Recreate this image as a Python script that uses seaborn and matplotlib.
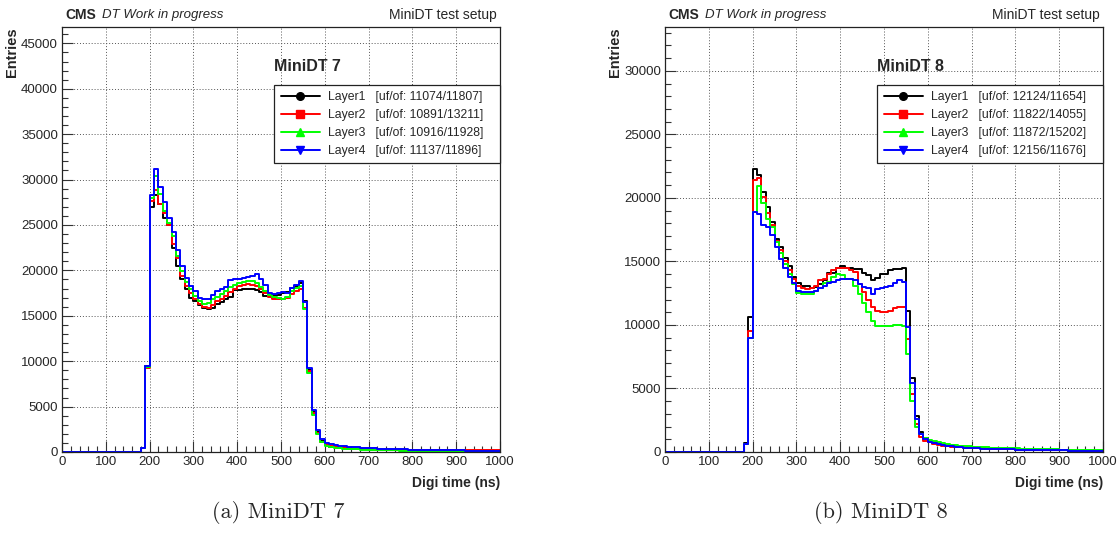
import matplotlib
matplotlib.use("Agg")
import matplotlib.pyplot as plt
from matplotlib.lines import Line2D
from matplotlib.ticker import MultipleLocator
import pandas as pd
import seaborn as sns

# Histogram binning (10 ns bins, 0..1000 ns), counts listed from the 180 ns bin on
BIN_WIDTH = 10
T_MIN, T_MAX = 0, 1000
FIRST_BIN = 180

LAYERS = ["Layer1", "Layer2", "Layer3", "Layer4"]
LAYER_COLORS = ["#000000", "#ff0000", "#00ff00", "#0000ff"]
LAYER_MARKERS = ["o", "s", "^", "v"]

# --- MiniDT 7 ---
MDT7_L1 = [
    400, 9500, 27000, 28300, 27300, 25800, 25000, 22500, 20500,
    19000, 17900, 17000, 16600, 16200, 15900, 15700, 15900, 16300, 16500,
    16800, 17100, 17800, 17800, 17900, 17900, 17900, 17800, 17600, 17200,
    17200, 17300, 17300, 17500, 17600, 18100, 18300, 18600, 16600, 9000,
    4400, 2200, 1200,
    800, 600, 500, 450, 400, 380, 350, 330, 300, 280,
    270, 260, 250, 240, 230, 220, 210, 200, 190, 180,
    170, 160, 150, 150, 140, 140, 130, 130, 120, 120,
    110, 110, 100, 100, 100, 90, 90, 90, 80, 80,
]
MDT7_L2 = [
    400, 9300, 27600, 28800, 27300, 26300, 25000, 22900, 21400,
    19400, 18300, 17500, 16900, 16300, 16000, 15900, 16200, 16600, 16900,
    17200, 17600, 18000, 18300, 18400, 18500, 18400, 18300, 18000, 17500,
    17100, 16900, 16800, 16900, 17000, 17400, 17700, 17900, 15900, 8900,
    4300, 2100, 1100,
    800, 650, 550, 480, 430, 400, 370, 340, 320, 300,
    280, 270, 260, 250, 240, 230, 220, 210, 200, 200,
    190, 180, 180, 170, 170, 200, 220, 200, 180, 200,
    220, 200, 200, 180, 200, 220, 200, 200, 210, 200,
]
MDT7_L3 = [
    400, 9400, 28000, 30400, 28400, 26500, 25200, 23800, 21600,
    19900, 18700, 17900, 17200, 16600, 16300, 16400, 16800, 17100, 17400,
    17700, 18200, 18400, 18600, 18700, 18800, 18800, 18600, 18200, 17700,
    17300, 17100, 17000, 16900, 17100, 17700, 18100, 18300, 15800, 8700,
    4100, 2000, 1100,
    700, 550, 450, 400, 360, 330, 300, 280, 260, 240,
    230, 220, 210, 200, 190, 180, 170, 160, 150, 150,
    140, 140, 130, 130, 120, 120, 110, 110, 100, 100,
    90, 90, 90, 80, 80, 80, 70, 70, 70, 60,
]
MDT7_L4 = [
    400, 9500, 28300, 31200, 29200, 27500, 25800, 24200, 22200,
    20500, 19200, 18300, 17700, 17000, 16800, 16900, 17300, 17700, 17900,
    18200, 18900, 19000, 19100, 19200, 19300, 19400, 19600, 19000, 18400,
    17500, 17400, 17500, 17600, 17500, 18100, 18400, 18800, 16500, 9300,
    4600, 2400, 1400,
    1000, 850, 750, 700, 650, 600, 560, 520, 490, 460,
    430, 400, 380, 360, 340, 320, 300, 290, 280, 260,
    250, 240, 230, 220, 210, 200, 200, 190, 180, 180,
    170, 170, 160, 160, 150, 150, 140, 140, 130, 130,
]
MDT7_UFOF = ["11074/11807", "10891/13211", "10916/11928", "11137/11896"]

# --- MiniDT 8 ---
MDT8_L1 = [
    700, 10600, 22300, 21800, 20500, 19300, 18100, 16800, 16100,
    15300, 14600, 13800, 13300, 13100, 13100, 12900, 13000, 13200, 13500,
    14100, 14100, 14500, 14600, 14500, 14500, 14400, 14400, 14100, 13900,
    13500, 13700, 14000, 14000, 14300, 14400, 14400, 14500, 11100, 5800,
    2800, 1600, 1100,
    900, 750, 650, 580, 520, 480, 440, 410, 380, 350,
    330, 310, 290, 270, 250, 240, 230, 220, 210, 200,
    190, 180, 170, 160, 150, 150, 140, 140, 130, 130,
    120, 120, 110, 110, 100, 100, 100, 90, 90, 90,
]
MDT8_L2 = [
    600, 9500, 21400, 21600, 20100, 18800, 17900, 16600, 15900,
    15000, 14300, 13600, 13100, 12900, 12800, 12900, 13100, 13500, 13600,
    14000, 14300, 14500, 14500, 14500, 14300, 14200, 13200, 12600, 12000,
    11400, 11100, 11000, 11000, 11100, 11300, 11400, 11400, 8900, 4600,
    2200, 1200, 900,
    750, 650, 560, 500, 460, 420, 390, 360, 340, 320,
    300, 290, 280, 270, 260, 250, 240, 230, 220, 210,
    200, 190, 180, 170, 160, 150, 150, 140, 140, 130,
    130, 120, 120, 110, 110, 100, 100, 100, 90, 90,
]
MDT8_L3 = [
    600, 9000, 18900, 20900, 19600, 18300, 17700, 16500, 15700,
    14800, 14000, 13200, 12500, 12400, 12400, 12400, 12700, 12900, 13300,
    13400, 13800, 14000, 13900, 13600, 13600, 13100, 12400, 11700, 11000,
    10300, 9900, 9900, 9900, 9900, 10000, 10000, 9900, 7700, 4000,
    2000, 1400, 1100,
    950, 850, 750, 680, 620, 570, 530, 500, 470, 440,
    420, 400, 380, 360, 340, 330, 320, 310, 300, 290,
    280, 270, 260, 250, 240, 230, 220, 210, 200, 200,
    190, 180, 170, 160, 160, 150, 150, 140, 140, 130,
]
MDT8_L4 = [
    600, 9000, 18900, 18700, 17900, 17700, 17100, 16100, 15200,
    14500, 13800, 13300, 12700, 12600, 12600, 12600, 12700, 12900, 13100,
    13300, 13400, 13500, 13600, 13600, 13600, 13500, 13200, 13000, 12900,
    12400, 12800, 12900, 13000, 13100, 13300, 13500, 13400, 9800, 5400,
    2600, 1400, 1000,
    800, 680, 600, 540, 490, 450, 410, 380, 350, 330,
    310, 290, 270, 260, 250, 240, 230, 220, 210, 200,
    190, 180, 170, 160, 150, 150, 140, 140, 130, 130,
    120, 120, 110, 110, 100, 100, 100, 90, 90, 90,
]
MDT8_UFOF = ["12124/11654", "11822/14055", "11872/15202", "12156/11676"]

W, H = 1118, 545


def to_frame(series):
    rows = []
    for layer, counts in zip(LAYERS, series):
        for i, c in enumerate(counts):
            rows.append({"layer": layer, "time": FIRST_BIN + BIN_WIDTH * (i + 0.5), "counts": c})
    return pd.DataFrame(rows)


def draw_panel(fig, left_px, series, ufof, title, caption):
    ax = fig.add_axes([left_px / W, (H - 452) / H, 438 / W, 425 / H])
    df = to_frame(series)

    # draw layer by layer so Layer4 ends up on top, like ROOT
    for layer, color in zip(LAYERS, LAYER_COLORS):
        sns.histplot(
            data=df[df["layer"] == layer],
            x="time",
            weights="counts",
            binwidth=BIN_WIDTH,
            binrange=(T_MIN, T_MAX),
            element="step",
            fill=False,
            color=color,
            linewidth=1.4,
            ax=ax,
        )

    ymax = 1.5 * df["counts"].max()
    ax.set_xlim(T_MIN, T_MAX)
    ax.set_ylim(0, ymax)

    # ROOT-ish axes
    ax.xaxis.set_major_locator(MultipleLocator(100))
    ax.xaxis.set_minor_locator(MultipleLocator(20))
    ax.yaxis.set_major_locator(MultipleLocator(5000))
    ax.yaxis.set_minor_locator(MultipleLocator(1000))
    ax.tick_params(which="both", direction="in", bottom=True, left=True,
                   top=False, right=False,
                   labelsize=9.5, pad=3, width=0.8, color="#333333")
    ax.tick_params(which="major", length=8)
    ax.tick_params(which="minor", length=4)
    ax.grid(True, which="major", linestyle=(0, (1, 2)), color="#555555", linewidth=0.7)
    ax.set_axisbelow(True)
    for sp in ax.spines.values():
        sp.set_visible(True)
        sp.set_color("#222222")
        sp.set_linewidth(0.9)

    ax.set_xlabel("Digi time (ns)", loc="right", fontweight="bold", fontsize=10, labelpad=6)
    ax.set_ylabel("Entries", loc="top", fontweight="bold", fontsize=10.5, labelpad=1)

    ax.text(0.483, 0.906, title, transform=ax.transAxes, fontsize=11.5,
            fontweight="bold", va="center", ha="left")

    handles = [
        Line2D([], [], color=c, marker=m, markersize=5.5, linewidth=1.4)
        for c, m in zip(LAYER_COLORS, LAYER_MARKERS)
    ]
    labels = [f"{lay}   [uf/of: {u}]" for lay, u in zip(LAYERS, ufof)]
    leg = ax.legend(
        handles, labels,
        loc="upper left",
        bbox_to_anchor=(0.485, 0.682, 0.515, 0.182),
        mode="expand",
        borderaxespad=0,
        fontsize=8.8,
        handlelength=3.2,
        handletextpad=0.7,
        labelspacing=0.5,
        borderpad=0.5,
        fancybox=False,
        framealpha=1,
    )
    leg.get_frame().set_edgecolor("#222222")
    leg.get_frame().set_linewidth(0.9)

    # header above the frame
    fig.text((left_px + 3) / W, 1 - 15 / H, "CMS", fontweight="bold", fontsize=10, va="center")
    fig.text((left_px + 40) / W, 1 - 15 / H, "DT Work in progress", fontstyle="italic",
             fontsize=9.5, va="center")
    fig.text((left_px + 435) / W, 1 - 15 / H, "MiniDT test setup", fontsize=10,
             va="center", ha="right")

    fig.text((left_px + 216) / W, 1 - 512 / H, caption, family="cmr10", fontsize=16,
             ha="center", va="center")
    return ax


sns.set_theme(style="white")
plt.rcParams["font.family"] = ["Liberation Sans", "DejaVu Sans"]

fig = plt.figure(figsize=(W / 100, H / 100), dpi=100)
draw_panel(fig, 62, [MDT7_L1, MDT7_L2, MDT7_L3, MDT7_L4], MDT7_UFOF, "MiniDT 7", "(a) MiniDT 7")
draw_panel(fig, 665, [MDT8_L1, MDT8_L2, MDT8_L3, MDT8_L4], MDT8_UFOF, "MiniDT 8", "(b) MiniDT 8")

fig.savefig("out.png", dpi=100, facecolor="white")
